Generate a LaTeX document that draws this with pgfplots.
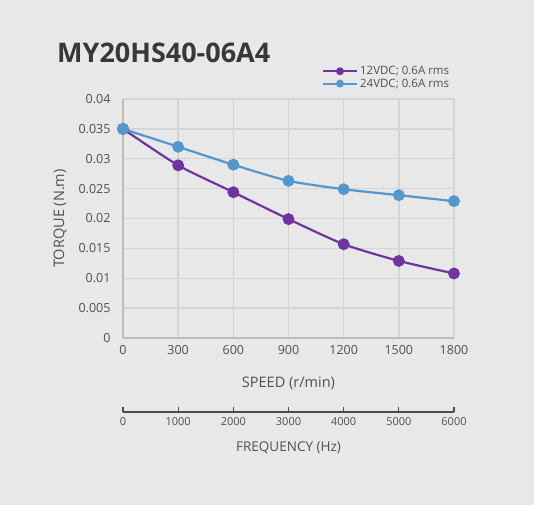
\documentclass[border=0pt]{standalone}
\usepackage{fontspec}
\setmainfont{Open Sans}
\usepackage{pgfplots}
\pgfplotsset{compat=1.18}
\definecolor{bgc}{RGB}{232,232,232}
\definecolor{purp}{RGB}{112,52,160}
\definecolor{bluec}{RGB}{84,151,205}
\definecolor{gridc}{RGB}{212,212,212}
\definecolor{axc}{RGB}{190,190,190}
\definecolor{txt}{RGB}{80,80,80}
\begin{document}
\begin{tikzpicture}[x=1pt,y=1pt]
\fill[bgc] (0,0) rectangle (534,505);
\useasboundingbox (0,0) rectangle (534,505);
\node[anchor=base west,inner sep=0pt,text=black!78] at (57,442) {\fontsize{27}{30}\selectfont\bfseries MY20HS40-06A4};
\begin{axis}[
  at={(123pt,167pt)}, anchor=south west,
  scale only axis, width=331pt, height=239pt,
  xmin=0, xmax=1800, ymin=0, ymax=0.04,
  xtick={0,300,...,1800},
  ytick={0,0.005,0.01,0.015,0.02,0.025,0.03,0.035,0.04},
  yticklabels={0,0.005,0.01,0.015,0.02,0.025,0.03,0.035,0.04},
  scaled y ticks=false,
  /pgf/number format/assume math mode=true,
  /pgf/number format/1000 sep={},
  grid=major,
  major grid style={gridc, line width=1.4pt},
  axis x line*=bottom, axis y line*=left,
  axis line style={axc, line width=1.8pt, -},
  major tick length=0pt,
  tick label style={font=\fontsize{12.5}{14}\selectfont, text=txt},
  xticklabel style={yshift=-4pt},
  yticklabel style={xshift=-9pt},
  xlabel={SPEED (r/min)},
  ylabel={TORQUE (N.m)},
  label style={font=\fontsize{14.5}{16}\selectfont, text=txt},
  xlabel style={at={(axis description cs:0.5,0)}, anchor=center, yshift=-45pt},
  ylabel style={at={(axis description cs:-0.19,0.5)}, anchor=center},
  clip=false,
  legend style={at={(0.995,1.15)}, anchor=north east, draw=none, fill=none,
    font=\fontsize{11.5}{13}\selectfont, text=txt, row sep=-1.5pt, inner sep=1pt},
  legend cell align=left,
  legend image code/.code={\draw[mark repeat=2,mark phase=2,mark size=2.8pt] plot coordinates {(0pt,0pt)(17pt,0pt)(34pt,0pt)};},
]
\addplot[purp, line width=2.2pt, smooth, tension=0.4, mark=*, mark size=4.8pt, mark options={fill=purp, draw=purp}]
  coordinates {(0,0.035)(300,0.0289)(600,0.0244)(900,0.0199)(1200,0.0157)(1500,0.0129)(1800,0.0108)};
\addlegendentry{12VDC; 0.6A rms}
\addplot[bluec, line width=2.2pt, smooth, tension=0.4, mark=*, mark size=4.8pt, mark options={fill=bluec, draw=bluec}]
  coordinates {(0,0.035)(300,0.0320)(600,0.0290)(900,0.0263)(1200,0.0249)(1500,0.0239)(1800,0.0229)};
\addlegendentry{24VDC; 0.6A rms}
\end{axis}
\begin{axis}[
  at={(123pt,93pt)}, anchor=south west,
  scale only axis, width=331pt, height=10pt,
  xmin=0, xmax=6000, ymin=0, ymax=1,
  xtick={0,1000,...,6000},
  /pgf/number format/assume math mode=true,
  /pgf/number format/1000 sep={},
  axis x line*=bottom, hide y axis,
  axis line style={black!70, line width=1.5pt, -},
  tick align=inside, major tick length=5pt,
  tick style={black!70, line width=1.3pt},
  tick label style={font=\fontsize{11}{12}\selectfont, text=txt},
  xticklabel style={yshift=-2pt},
  xlabel={FREQUENCY (Hz)},
  xlabel style={font=\fontsize{13.5}{15}\selectfont, text=txt, at={(axis description cs:0.5,0)}, anchor=center, yshift=-36pt},
]
\addplot[draw=none] coordinates {(0,0.5)};
\end{axis}
\end{tikzpicture}
\end{document}
